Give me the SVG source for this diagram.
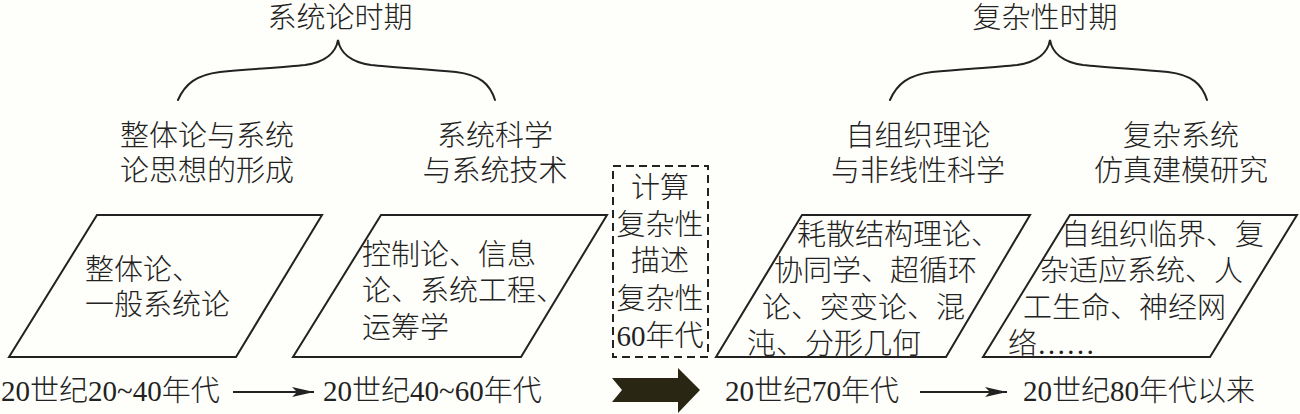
<svg xmlns="http://www.w3.org/2000/svg" width="1300" height="414" viewBox="0 0 1300 414">
<style>
.t{font-family:"Liberation Serif","Noto Sans CJK SC",serif;font-size:29px;font-weight:300;fill:#222}
.m{text-anchor:middle}
.box{fill:none;stroke:#222;stroke-width:2;stroke-linejoin:miter}
.dash{fill:none;stroke:#222;stroke-width:2;stroke-dasharray:8 5}
.ln{fill:none;stroke:#222;stroke-width:2}
.br{fill:none;stroke:#222;stroke-width:2;stroke-linecap:round}
</style>
<defs>
<marker id="ah" markerWidth="24" markerHeight="12" refX="22" refY="6" orient="auto" markerUnits="userSpaceOnUse">
<path d="M0,1 L22,6 L0,11 L5,6 Z" fill="#222"/>
</marker>
<path id="brace" d="M178,100 C185,84 196,75 220,72 C255,69 285,67 305,65 C326,62 336,52 338,40 C340,52 350,62 371,65 C391,67 421,69 456,72 C480,75 490,84 495,100"/>
</defs>
<rect width="1300" height="414" fill="#fefefa"/>

<g id="title-system">
<text class="t m" x="340" y="28">系统论时期</text>
</g>
<g id="title-complex">
<text class="t m" x="1045" y="28">复杂性时期</text>
</g>

<g id="head-1">
<text class="t m" x="207" y="146">整体论与系统</text>
<text class="t m" x="207" y="181">论思想的形成</text>
</g>
<g id="head-2">
<text class="t m" x="495" y="146">系统科学</text>
<text class="t m" x="495" y="181">与系统技术</text>
</g>
<g id="head-3">
<text class="t m" x="918" y="146">自组织理论</text>
<text class="t m" x="918" y="181">与非线性科学</text>
</g>
<g id="head-4">
<text class="t m" x="1181" y="146">复杂系统</text>
<text class="t m" x="1181" y="181">仿真建模研究</text>
</g>

<g id="box-1">
<polygon class="box" points="97,215 322,215 236,357 9,357"/>
<text class="t" x="85" y="280">整体论、</text>
<text class="t" x="85" y="315">一般系统论</text>
</g>
<g id="box-2">
<polygon class="box" points="381,215 607,215 521,357 293,357"/>
<text class="t" x="362" y="265">控制论、信息</text>
<text class="t" x="362" y="301">论、系统工程、</text>
<text class="t" x="362" y="338">运筹学</text>
</g>
<g id="box-compute">
<rect class="dash" x="613" y="166" width="95" height="191"/>
<text class="t m" x="660" y="198">计算</text>
<text class="t m" x="660" y="235">复杂性</text>
<text class="t m" x="660" y="271">描述</text>
<text class="t m" x="660" y="309">复杂性</text>
<text class="t m" x="660" y="346">60年代</text>
</g>
<g id="box-3">
<polygon class="box" points="802,215 1030,215 946,357 716,357"/>
<text class="t" x="797" y="245">耗散结构理论、</text>
<text class="t" x="774" y="281">协同学、超循环</text>
<text class="t" x="762" y="318">论、突变论、混</text>
<text class="t" x="747" y="354">沌、分形几何</text>
</g>
<g id="box-4">
<polygon class="box" points="1070,215 1297,215 1210,357 983,357"/>
<text class="t" x="1061" y="245">自组织临界、复</text>
<text class="t" x="1040" y="281">杂适应系统、人</text>
<text class="t" x="1023" y="318">工生命、神经网</text>
<text class="t" x="1008" y="354">络……</text>
</g>

<g id="label-1"><text class="t" x="1" y="401">20世纪20~40年代</text></g>
<g id="label-2"><text class="t" x="323" y="401">20世纪40~60年代</text></g>
<g id="label-3"><text class="t" x="725" y="401">20世纪70年代</text></g>
<g id="label-4"><text class="t" x="1023" y="401">20世纪80年代以来</text></g>

<g id="connectors">
<use href="#brace" class="br"/>
<use href="#brace" class="br" transform="translate(712,0)"/>
<line class="ln" x1="233" y1="392" x2="314" y2="392" marker-end="url(#ah)"/>
<line class="ln" x1="920" y1="392" x2="1007" y2="392" marker-end="url(#ah)"/>
<path d="M612,378 L678,378 L678,368 L700,390 L678,413 L678,402 L612,402 L622,390 Z" fill="#2a2614"/>
</g>
</svg>
